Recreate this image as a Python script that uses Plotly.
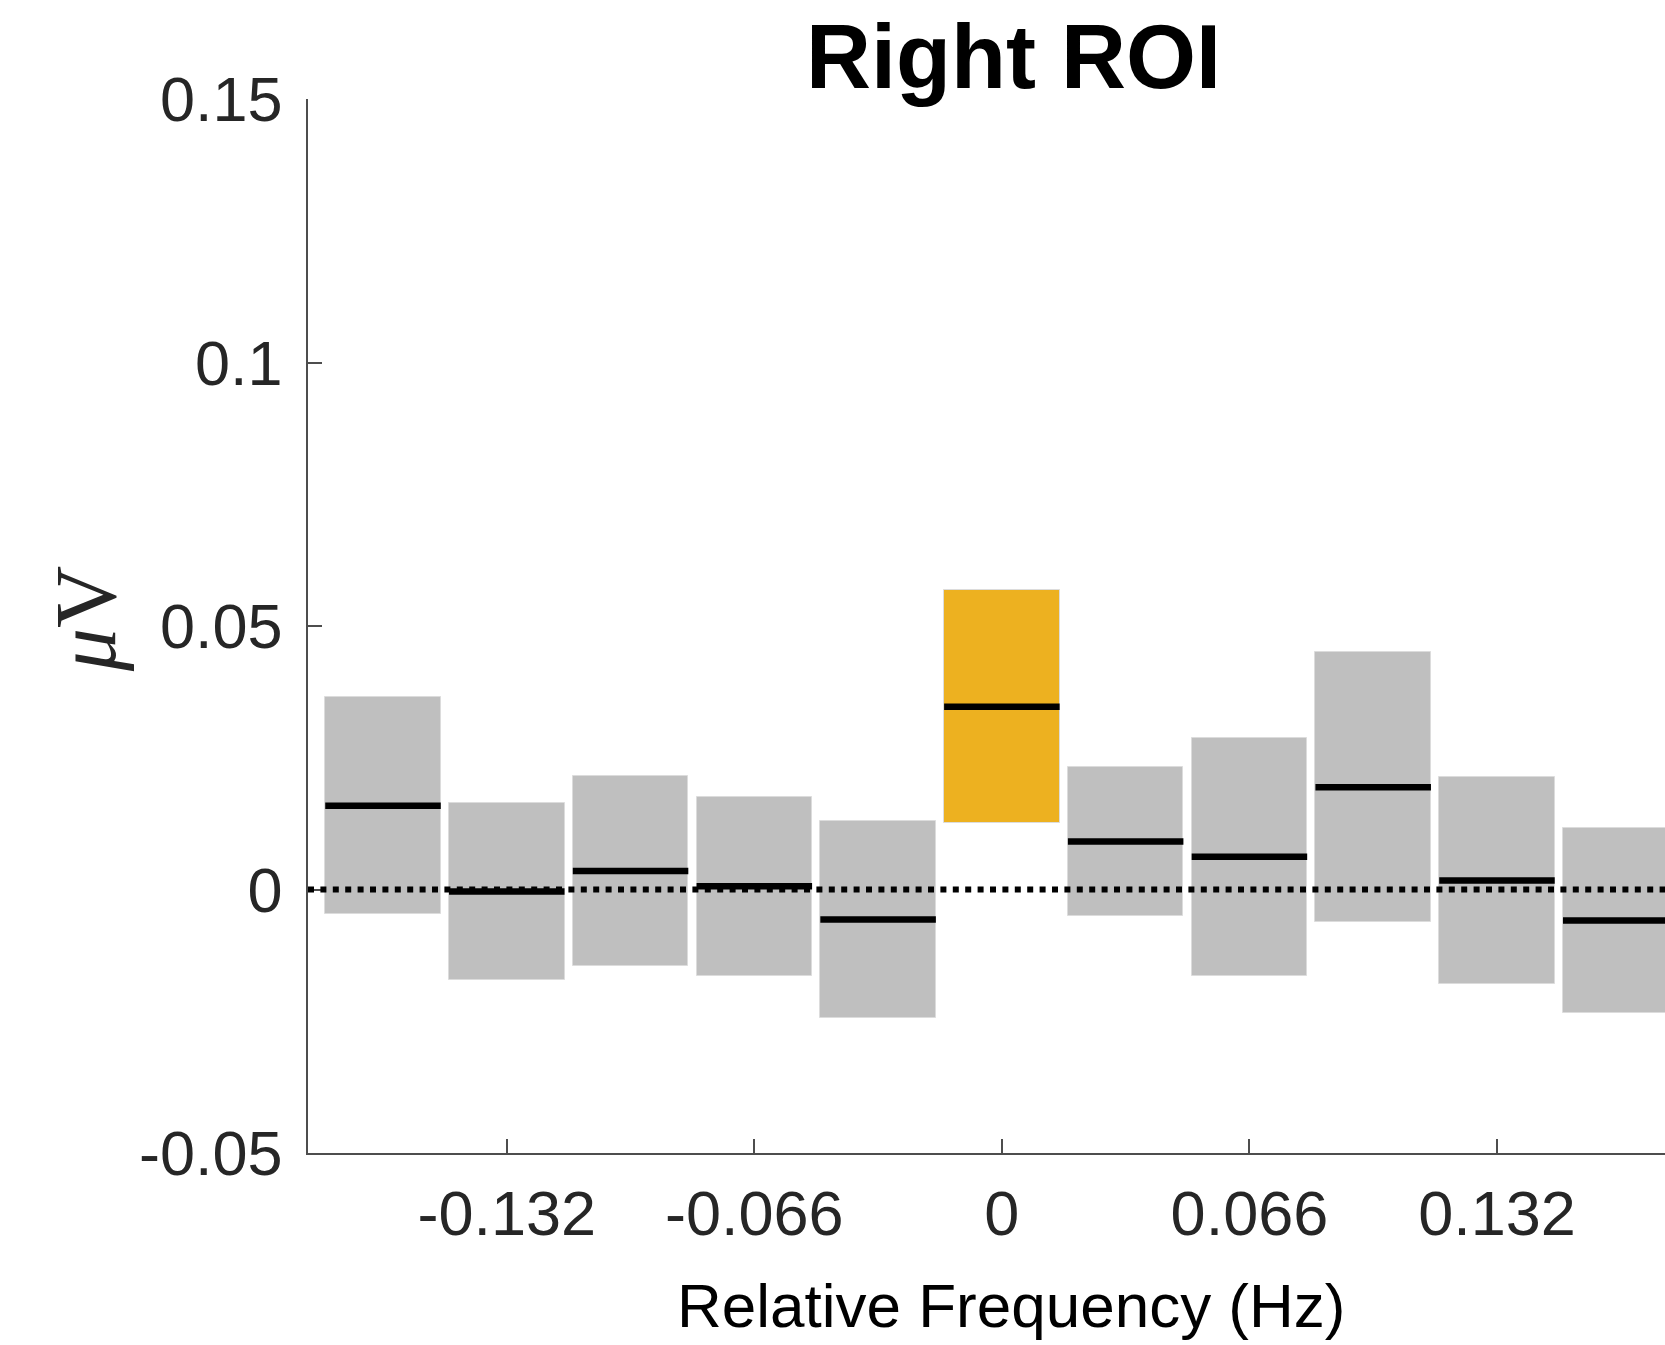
import plotly.graph_objects as go

# ---- data ----
freqs = [-0.165, -0.132, -0.099, -0.066, -0.033, 0.0, 0.033, 0.066, 0.099, 0.132, 0.165]
upper = [0.0365, 0.0164, 0.0216, 0.0176, 0.0130, 0.0568, 0.0233, 0.0288, 0.0450, 0.0213, 0.0116]
lower = [-0.0047, -0.0172, -0.0146, -0.0164, -0.0244, 0.0126, -0.0051, -0.0165, -0.0062, -0.0179, -0.0234]
means = [0.0159, -0.0004, 0.0035, 0.0006, -0.0057, 0.0347, 0.0091, 0.0062, 0.0194, 0.0017, -0.0059]
highlight = [False, False, False, False, False, True, False, False, False, False, False]

xtick_vals = [-0.132, -0.066, 0, 0.066, 0.132]
xtick_text = ["-0.132", "-0.066", "0", "0.066", "0.132"]
ytick_vals = [-0.05, 0, 0.05, 0.1, 0.15]
ytick_text = ["-0.05", "0", "0.05", "0.1", "0.15"]

BAR_W = 0.0308
GRAY = "#bfbfbf"
YELLOW = "#edb120"
FONT = "Liberation Sans"
TXT = "#262626"

OFF = 0  # body margin removed by post_script
W, H = 1665 - OFF, 1345 - OFF
L = 308 - OFF
T = round(98.7 - OFF, 1)
BOTTOM = 1153 - OFF
R = 0
B = H - BOTTOM

fig = go.Figure()

fig.add_trace(go.Bar(
    x=freqs,
    y=[u - l for u, l in zip(upper, lower)],
    base=lower,
    width=BAR_W,
    marker=dict(color=[YELLOW if h else GRAY for h in highlight],
                line=dict(color="#dcdcdc", width=1)),
    showlegend=False,
    hoverinfo="skip",
))

# mean lines
mx, my = [], []
for f, m in zip(freqs, means):
    mx += [f - BAR_W / 2, f + BAR_W / 2, None]
    my += [m, m, None]
fig.add_trace(go.Scatter(x=mx, y=my, mode="lines",
                         line=dict(color="black", width=6.5),
                         showlegend=False, hoverinfo="skip"))

# dotted zero line
fig.add_shape(type="line", xref="paper", x0=0, x1=1, yref="y", y0=0, y1=0,
              line=dict(color="black", width=6, dash="6px,6.4px"), layer="above")

axis_common = dict(
    showline=True, linecolor="#4d4d4d", linewidth=1.5,
    ticks="inside", ticklen=14, tickwidth=1.5, tickcolor="#4d4d4d",
    showgrid=False, zeroline=False,
    tickfont=dict(family=FONT, size=63, color=TXT),
    mirror=False,
)

fig.update_xaxes(range=[-0.185, 0.1768], tickmode="array",
                 tickvals=xtick_vals, ticktext=xtick_text,
                 ticklabelstandoff=5, **axis_common)
fig.update_yaxes(range=[-0.05, 0.15], tickmode="array",
                 tickvals=ytick_vals, ticktext=ytick_text,
                 ticklabelstandoff=11, **axis_common)

plot_w = W - L - R
plot_h = H - T - B


def px(xp):
    return (xp - OFF - L) / plot_w


def py(yp):
    return (H - B - (yp - OFF)) / plot_h


annotations = [
    dict(text="<b>Right ROI</b>", xref="paper", yref="paper",
         x=px(1013), y=py(57),
         xanchor="center", yanchor="middle", showarrow=False,
         font=dict(family=FONT, size=90, color="black")),
    dict(text="Relative Frequency (Hz)", xref="paper", yref="paper",
         x=px(1011), y=py(1306),
         xanchor="center", yanchor="middle", showarrow=False,
         font=dict(family=FONT, size=62, color="black")),
    dict(text="<i>μ</i>V", xref="paper", yref="paper",
         x=px(86), y=py(619),
         xanchor="center", yanchor="middle", showarrow=False, textangle=-90,
         font=dict(family="Liberation Serif", size=86, color=TXT)),
]

fig.update_layout(
    width=W, height=H,
    margin=dict(l=L, r=R, t=T, b=B, autoexpand=False),
    plot_bgcolor="white", paper_bgcolor="white",
    bargap=0,
    annotations=annotations,
)

fig.write_html(
    "out.html",
    config={"displayModeBar": False},
    post_script="document.body.style.margin='0';document.body.style.overflow='hidden';",
)
